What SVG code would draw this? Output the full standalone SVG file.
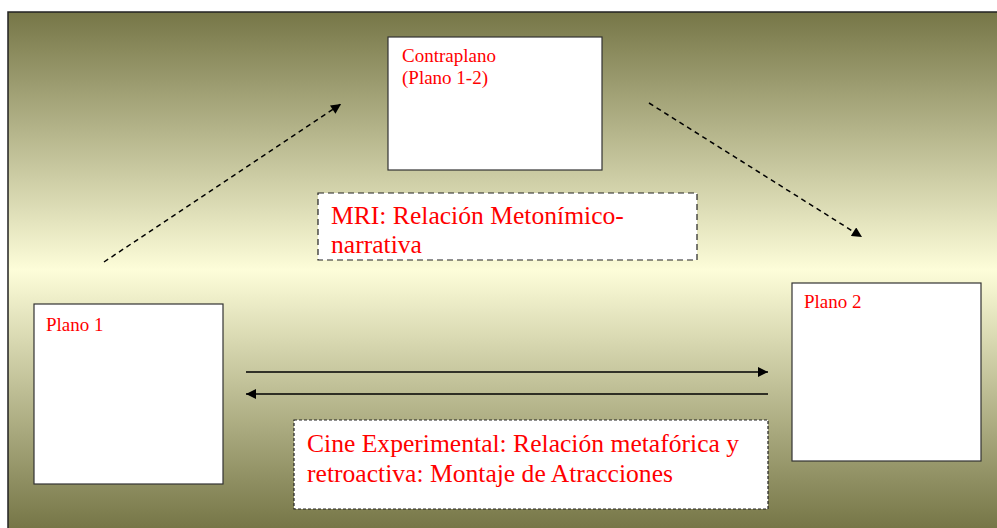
<svg xmlns="http://www.w3.org/2000/svg" width="997" height="528" viewBox="0 0 997 528">
<style>
.box{fill:#fff;stroke:#333;stroke-width:1.2}
.dbox{fill:#fff;stroke:#222;stroke-width:1.2;stroke-dasharray:6 4}
.dbox2{fill:#fff;stroke:#222;stroke-width:1.2;stroke-dasharray:3 2}
.t{font-family:"Liberation Serif","Times New Roman",serif;fill:#ff0000}
.s{font-size:19px}
.l{font-size:25.6px}
.c{stroke:#000;stroke-width:1.5;fill:none}
.d{stroke-dasharray:5 4}
</style>
<defs>
<linearGradient id="bg" x1="0" y1="12" x2="0" y2="528" gradientUnits="userSpaceOnUse">
<stop offset="0" stop-color="#767647"/>
<stop offset="0.5" stop-color="#fdfdd9"/>
<stop offset="1" stop-color="#767647"/>
</linearGradient>
<marker id="ah" viewBox="0 0 10 10" refX="10" refY="5" markerWidth="11" markerHeight="10" markerUnits="userSpaceOnUse" orient="auto">
<path d="M0,0 L10,5 L0,10 z" fill="#000"/>
</marker>
</defs>
<rect x="8" y="12" width="1000" height="530" fill="url(#bg)" stroke="#222" stroke-width="1.5"/>
<g id="connectors">
<line class="c d" x1="104" y1="262" x2="341" y2="104" marker-end="url(#ah)"/>
<line class="c d" x1="649" y1="103" x2="862" y2="237" marker-end="url(#ah)"/>
<line class="c" x1="246" y1="372" x2="768" y2="372" marker-end="url(#ah)"/>
<line class="c" x1="768" y1="394" x2="246" y2="394" marker-end="url(#ah)"/>
</g>
<g id="contraplano">
<rect class="box" x="388" y="37" width="214" height="133"/>
<text class="t s" x="402" y="62">Contraplano</text>
<text class="t s" x="402" y="84">(Plano 1-2)</text>
</g>
<g id="mri">
<rect class="dbox" x="318" y="193" width="379" height="67"/>
<text class="t l" x="331" y="224">MRI: Relación Metonímico-</text>
<text class="t l" x="331" y="253">narrativa</text>
</g>
<g id="plano1">
<rect class="box" x="34" y="304" width="189" height="180"/>
<text class="t s" x="46" y="331">Plano 1</text>
</g>
<g id="plano2">
<rect class="box" x="792" y="283" width="189" height="178"/>
<text class="t s" x="804" y="308">Plano 2</text>
</g>
<g id="cine">
<rect class="dbox2" x="294" y="420" width="474" height="89"/>
<text class="t l" x="307" y="452">Cine Experimental: Relación metafórica y</text>
<text class="t l" x="307" y="482">retroactiva: Montaje de Atracciones</text>
</g>
</svg>
